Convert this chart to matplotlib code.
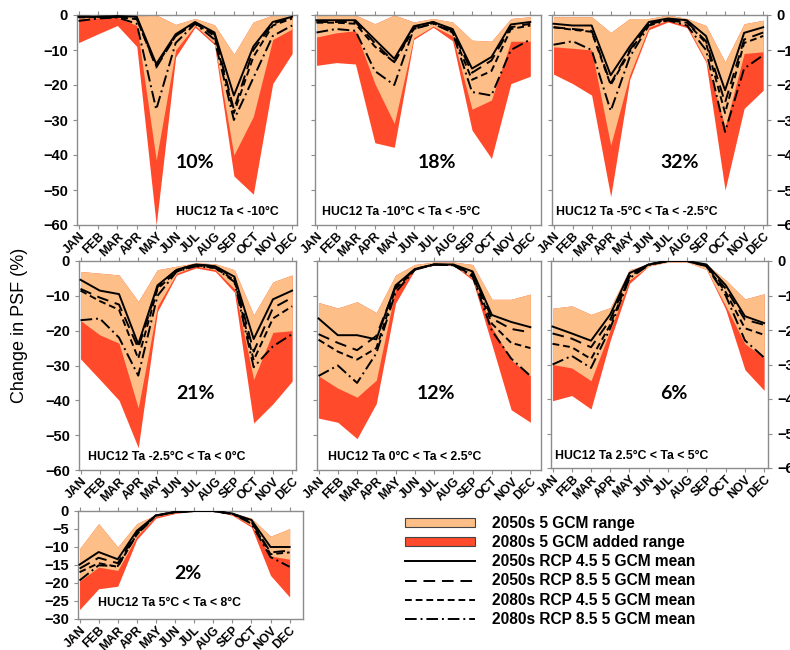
import matplotlib
matplotlib.use("Agg")
import matplotlib.pyplot as plt
from matplotlib.patches import Patch
from matplotlib.lines import Line2D

months = ['JAN', 'FEB', 'MAR', 'APR', 'MAY', 'JUN', 'JUL', 'AUG', 'SEP', 'OCT', 'NOV', 'DEC']

# ---- Panel 1: HUC12 Ta < -10°C (10%)
p1_top = [0, 0, 0, -0.3, 0, -2.7, -1, -2.8, -11.2, -2, 0, 0]
p1_r50 = [-1, -0.8, -0.6, -3, -41.4, -10, -3, -8, -40, -29, -7, -4]
p1_r80 = [-7.9, -5.4, -3, -9, -60, -12, -3.5, -8.5, -46, -51.2, -19.6, -11]
p1_m50_45 = [-0.5, -0.5, -0.3, -0.5, -14, -5.5, -2, -5, -23, -9, -2, -0.5]
p1_m50_85 = [-0.5, -0.5, -0.5, -1, -15, -6, -2.3, -5.5, -27, -10, -2.5, -0.7]
p1_m80_45 = [-0.7, -0.6, -0.6, -1.2, -14.5, -6, -2.3, -6, -28, -12, -3, -1]
p1_m80_85 = [-1.7, -1, -0.7, -2.5, -27, -8, -2.5, -7, -30, -18, -6, -3]

# ---- Panel 2: HUC12 Ta -10°C < Ta < -5°C (18%)
p2_top = [0, 0, 0, -2.5, 0, -2, -1, -2, -7.2, -7.5, -1, -0.5]
p2_r50 = [-6.3, -5.1, -4.5, -19.6, -31, -6.5, -3.2, -6, -26.9, -24.3, -7.5, -7.5]
p2_r80 = [-14.4, -13.6, -14, -36.5, -37.8, -7, -3.5, -7.4, -32.9, -41, -19.6, -17.5]
p2_m50_45 = [-1.5, -1.5, -1.5, -7, -12.5, -3.2, -2, -4, -15.3, -12, -2.7, -2]
p2_m50_85 = [-2, -2, -2, -8, -13.5, -3.5, -2, -4.5, -16.5, -13, -3.5, -2.5]
p2_m80_45 = [-2.2, -2.2, -2.5, -9, -13.5, -4, -2.3, -5, -18.5, -16, -4, -3]
p2_m80_85 = [-5, -4, -4.5, -16, -20, -4, -2.5, -5, -22, -23, -10, -7]

# ---- Panel 3: HUC12 Ta -5°C < Ta < -2.5°C (32%)
p3_top = [-0.5, -0.5, -0.5, -5, -1, -1, 0, -1, -3, -13.4, -2.5, -1.5]
p3_r50 = [-9.1, -9.5, -10, -37.2, -17, -3.5, -1.5, -3, -13, -32, -11, -10.5]
p3_r80 = [-16.9, -19.6, -22.9, -51.9, -18.4, -4.2, -2, -3.6, -13.5, -50, -26.7, -21.5]
p3_m50_45 = [-2.5, -3, -3, -17.2, -9, -2, -1, -1.5, -6, -21.5, -5.1, -3.5]
p3_m50_85 = [-3.5, -4, -4.5, -19.5, -10, -2.5, -1.3, -2, -7.5, -25, -7, -5]
p3_m80_45 = [-3.5, -4.2, -4.8, -20, -10.5, -2.5, -1.5, -2.2, -8, -28, -8, -6]
p3_m80_85 = [-8.5, -7.5, -10, -27.4, -12, -3, -1.5, -3, -10, -33.4, -15.3, -11.5]

# ---- Panel 4: HUC12 Ta -2.5°C < Ta < 0°C (21%)
p4_top = [-3, -3.5, -4, -11.6, -2.5, -1.5, -0.5, -0.8, -2.5, -15.5, -6, -4]
p4_r50 = [-17.1, -21.2, -23.6, -42.2, -13, -3.5, -1.5, -2.5, -8, -34, -20.5, -20]
p4_r80 = [-28.1, -34, -40, -53.6, -14.5, -4, -2, -3, -9, -46.5, -41, -34.5]
p4_m50_45 = [-5.4, -8.5, -9.5, -23.9, -7, -2.5, -1, -1.5, -4.5, -22.4, -11, -8.5]
p4_m50_85 = [-8, -10.5, -12.5, -25, -7.5, -2.5, -1, -1.5, -5, -26, -13.5, -10.5]
p4_m80_45 = [-8.5, -11.5, -14, -28, -8, -3, -1.2, -2, -5.5, -28.5, -16.5, -13]
p4_m80_85 = [-17, -16.5, -22, -32.9, -10, -3, -1.5, -2, -6, -30.5, -24.5, -21]

# ---- Panel 5: HUC12 Ta 0°C < Ta < 2.5°C (12%)
p5_top = [-11.9, -13.5, -11.7, -14.8, -4, -1, -0.3, -0.3, -1, -11, -11, -9.5]
p5_r50 = [-33, -36.5, -39.1, -34.2, -8, -2, -1, -1, -5, -19, -28.4, -33]
p5_r80 = [-45.1, -46.3, -51, -40.9, -12.1, -2.5, -1.2, -1.2, -5.5, -24, -42.7, -46.3]
p5_m50_45 = [-16.5, -21.3, -21.3, -22.5, -7, -2.3, -1, -1, -3, -15.5, -17.5, -19]
p5_m50_85 = [-21, -23.5, -25.6, -21.5, -7.5, -2.3, -1, -1.2, -3.5, -16.5, -19.5, -20.5]
p5_m80_45 = [-22.6, -26, -28.3, -25, -8, -2.5, -1, -1.2, -4, -18, -23.5, -25]
p5_m80_85 = [-33, -30, -35, -26.5, -9, -2.5, -1, -1.2, -4.5, -20, -28, -33]

# ---- Panel 6: HUC12 Ta 2.5°C < Ta < 5°C (6%)
p6_top = [-13.7, -13, -15.5, -13.5, -2.5, -1, 0, 0, -1, -5.5, -11, -9.5]
p6_r50 = [-30, -31, -34.7, -20, -5.5, -1.5, -0.3, -0.3, -2.5, -13, -24, -28]
p6_r80 = [-40.5, -39, -42.9, -23, -6.5, -1.5, -0.3, -0.3, -2.5, -14, -31.5, -37.5]
p6_m50_45 = [-19, -21, -23.1, -15.5, -3.5, -1, 0, 0, -1, -7, -16, -18]
p6_m50_85 = [-21, -22.5, -25, -17, -4, -1, 0, 0, -1.5, -8, -17, -18.5]
p6_m80_45 = [-24, -25, -28.4, -18.5, -4.5, -1, 0, 0, -1.5, -9, -19.5, -21.4]
p6_m80_85 = [-30, -27.5, -31, -19.5, -5, -1.2, 0, 0, -1.5, -10, -23, -28]

# ---- Panel 7: HUC12 Ta 5°C < Ta < 8°C (2%)
p7_top = [-10.5, -3.5, -10, -3.5, -1, -0.3, 0, 0, -0.5, -2, -7, -4.9]
p7_r50 = [-19.5, -15.6, -16.5, -7, -1.5, -0.5, 0, 0, -1, -4, -12.5, -13.4]
p7_r80 = [-27.4, -21.6, -20.9, -7.9, -2, -0.7, 0, 0, -1.2, -4.5, -17.9, -23.9]
p7_m50_45 = [-14.9, -11.4, -13.4, -5.5, -1.2, -0.3, 0, 0, -0.7, -2.5, -10, -10]
p7_m50_85 = [-16, -13, -14.5, -6, -1.2, -0.3, 0, 0, -0.8, -3, -11.5, -11]
p7_m80_45 = [-17, -14.5, -15.5, -6.5, -1.3, -0.3, 0, 0, -0.8, -3, -12, -11.5]
p7_m80_85 = [-19.3, -15.1, -15.3, -6.5, -1.3, -0.3, 0, 0, -0.8, -3.5, -12.8, -15.5]

titles = ['HUC12 Ta < -10°C', 'HUC12 Ta -10°C < Ta < -5°C', 'HUC12 Ta -5°C < Ta < -2.5°C',
          'HUC12 Ta -2.5°C < Ta < 0°C', 'HUC12 Ta 0°C < Ta < 2.5°C', 'HUC12 Ta 2.5°C < Ta < 5°C',
          'HUC12 Ta 5°C < Ta < 8°C']
shares = ['10%', '18%', '32%', '21%', '12%', '6%', '2%']

legend_labels = ['2050s 5 GCM range', '2080s 5 GCM added range',
                 '2050s RCP 4.5 5 GCM mean', '2050s RCP 8.5 5 GCM mean',
                 '2080s RCP 4.5 5 GCM mean', '2080s RCP 8.5 5 GCM mean']

panels = [
    (p1_top, p1_r50, p1_r80, p1_m50_45, p1_m50_85, p1_m80_45, p1_m80_85),
    (p2_top, p2_r50, p2_r80, p2_m50_45, p2_m50_85, p2_m80_45, p2_m80_85),
    (p3_top, p3_r50, p3_r80, p3_m50_45, p3_m50_85, p3_m80_45, p3_m80_85),
    (p4_top, p4_r50, p4_r80, p4_m50_45, p4_m50_85, p4_m80_45, p4_m80_85),
    (p5_top, p5_r50, p5_r80, p5_m50_45, p5_m50_85, p5_m80_45, p5_m80_85),
    (p6_top, p6_r50, p6_r80, p6_m50_45, p6_m50_85, p6_m80_45, p6_m80_85),
    (p7_top, p7_r50, p7_r80, p7_m50_45, p7_m50_85, p7_m80_45, p7_m80_85),
]

# ---- styles
ORANGE = '#FDBE87'
RED = '#FF4B2B'
FRAME = '#8c8c8c'
line_styles = ['-', (0, (6, 3.5)), (0, (3.5, 2)), (0, (6, 2, 1, 2))]
LW = 1.4

W, H = 790, 650
fig = plt.figure(figsize=(W / 100, H / 100), dpi=100)

# pixel boxes (left, right, top, bottom) and x-limit right edge
boxes = [
    (77, 297, 15, 225, 11.25),
    (315, 541, 15, 225, 11.55),
    (552, 767, 15, 225, 11.2),
    (79, 296, 261, 470, 11.2),
    (317, 541, 261, 470, 11.55),
    (551, 768, 261, 468, 11.2),
    (78, 303, 511, 619, 11.7),
]
share_pos = [(6.0, -42), (6.2, -42), (6.6, -42), (6.0, -38), (6.1, -38), (6.3, -38.3), (5.65, -17.4)]
title_pos = [(0.45, 0.06), (0.03, 0.06), (0.02, 0.06), (0.04, 0.06), (0.05, 0.06), (0.02, 0.06), (0.09, 0.15)]

x = list(range(12))
tick_font = dict(family='Liberation Sans', weight='bold')

for i, (data, box) in enumerate(zip(panels, boxes)):
    l, r, t, b, xr = box
    ax = fig.add_axes([l / W, 1 - b / H, (r - l) / W, (b - t) / H])
    top, r50, r80, m1, m2, m3, m4 = data
    ax.fill_between(x, top, r80, color=RED, linewidth=0, zorder=1)
    ax.fill_between(x, top, r50, color=ORANGE, linewidth=0, zorder=2)
    for vals, ls in zip((m1, m2, m3, m4), line_styles):
        ax.plot(x, vals, color='black', linestyle=ls, linewidth=LW, zorder=3)
    ax.set_xlim(-0.08, xr)
    if i == 6:
        ax.set_ylim(-30, 0)
        ax.set_yticks(range(-30, 1, 5))
    else:
        ax.set_ylim(-60, 0)
        ax.set_yticks(range(-60, 1, 10))
    ax.set_xticks(x)
    ax.set_xticklabels(months, rotation=45, ha='right', rotation_mode='anchor',
                       fontsize=8.8, **tick_font)
    for sp in ax.spines.values():
        sp.set_color(FRAME)
        sp.set_linewidth(1.0)
    ax.tick_params(axis='both', color=FRAME, length=3, width=0.8, direction='out')
    ax.tick_params(axis='x', top=True, pad=1)
    col = i % 3 if i < 6 else 0
    if col == 1:
        ax.tick_params(axis='y', labelleft=False)
    elif col == 2:
        ax.tick_params(axis='y', right=True, labelright=True, labelleft=False)
    for lab in ax.get_yticklabels():
        lab.set_fontsize(10.5)
        lab.set_fontfamily('Liberation Sans')
        lab.set_fontweight('bold')
    sx, sy = share_pos[i]
    ax.text(sx, sy, shares[i], fontsize=14, fontweight='bold', family='Lato',
            ha='center', va='center', zorder=5)
    tx, ty = title_pos[i]
    ax.text(tx, ty, titles[i], transform=ax.transAxes, fontsize=8.8, fontweight='bold',
            family='Liberation Sans', ha='left', va='center', zorder=5)

fig.text(20 / W, 1 - 325 / H, 'Change in PSF (%)', rotation=90, ha='center', va='center',
         fontsize=13, family='Liberation Sans')

handles = [
    Patch(facecolor=ORANGE, edgecolor='#444444', linewidth=0.8),
    Patch(facecolor=RED, edgecolor='#444444', linewidth=0.8),
] + [Line2D([], [], color='black', linestyle=ls, linewidth=LW) for ls in line_styles]
fig.legend(handles, legend_labels, loc='upper left', bbox_to_anchor=(394 / W, 1 - 505 / H),
           frameon=False, handlelength=4.5, handleheight=0.5, handletextpad=1.1,
           labelspacing=0.27, borderpad=0.2,
           prop=dict(family='Liberation Sans', weight='bold', size=11.2))

fig.savefig('out.png', dpi=100)
